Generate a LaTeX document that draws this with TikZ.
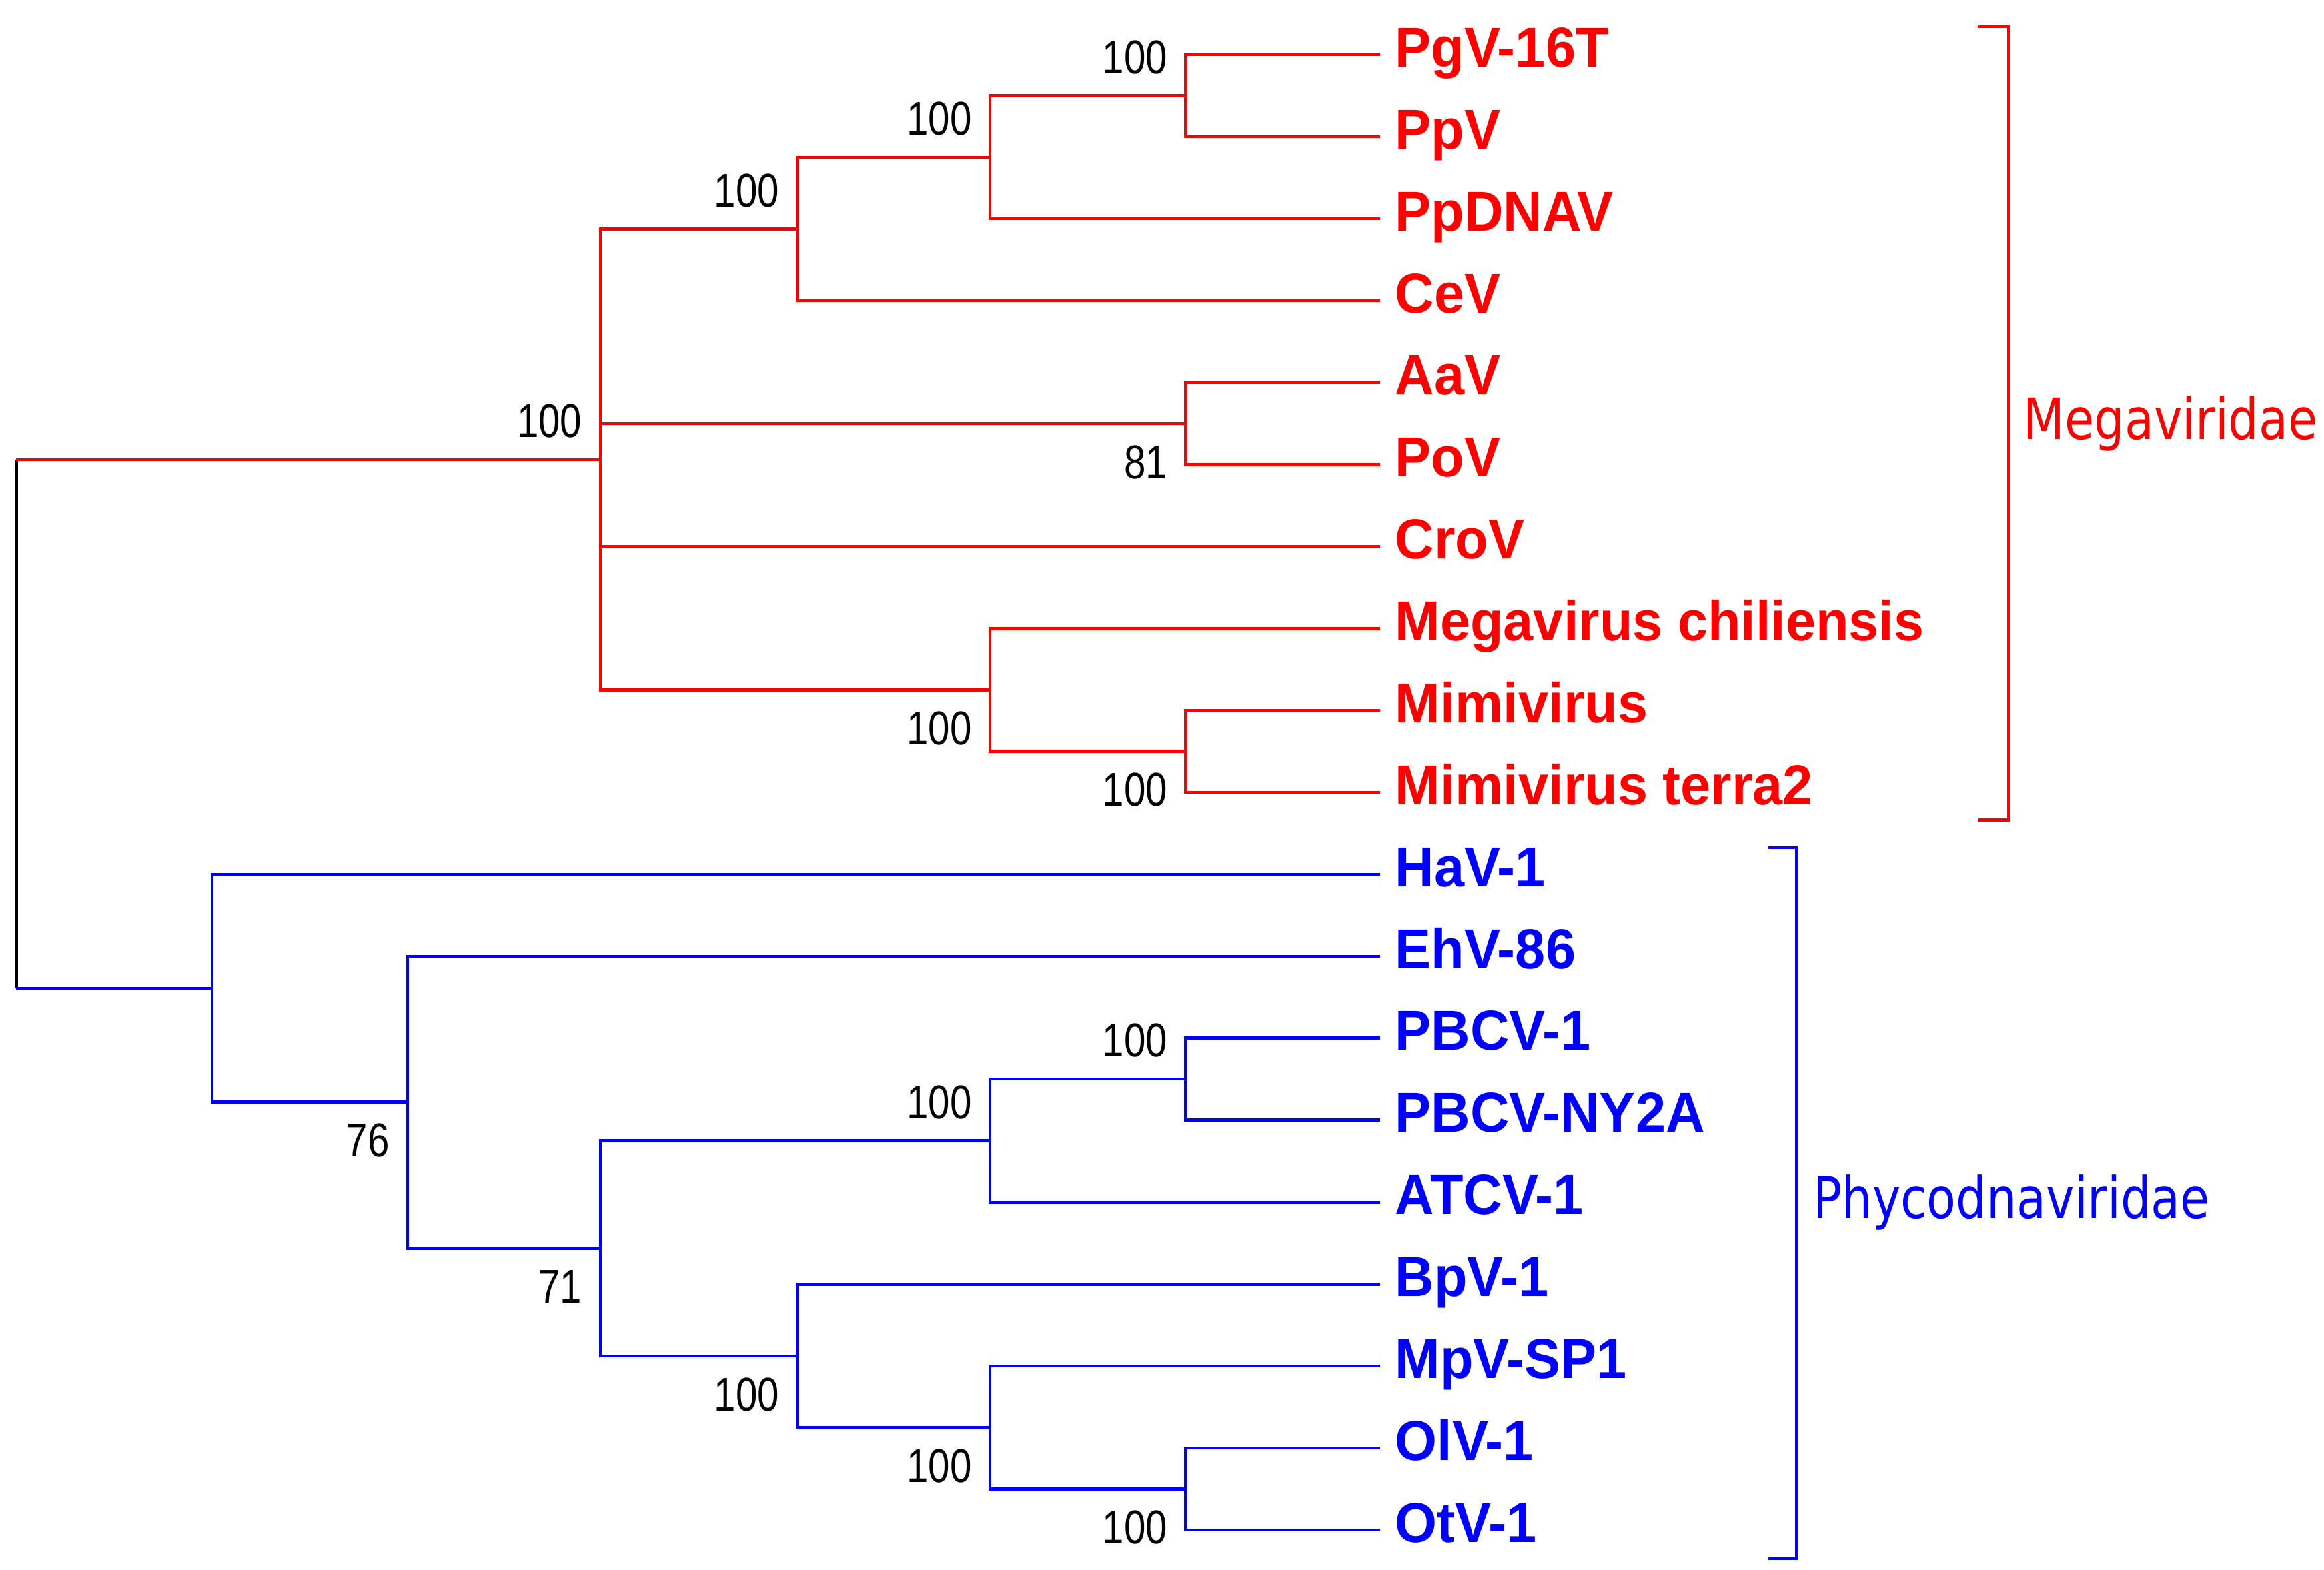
\documentclass[tikz,border=0pt]{standalone}
\usepackage{fontspec}
\setmainfont{Liberation Sans}
\newfontfamily\leaffont[FakeStretch=0.96]{Liberation Sans}
\newfontfamily\bootfont[FakeStretch=0.82]{Liberation Sans}
\newfontfamily\cladefont[FakeStretch=0.84]{DejaVu Sans}
\begin{document}
\begin{tikzpicture}[x=0.5pt,y=-27.65pt,
    branch/.style={line width=1pt},
    leaf/.style={anchor=west,inner xsep=5pt,inner ysep=0pt,text height=13.7pt,text depth=5.5pt,
      font=\leaffont\bfseries\fontsize{19}{22}\selectfont},
    boot/.style={anchor=east,inner sep=0pt,font=\bootfont\fontsize{16}{18}\selectfont},
    clade/.style={anchor=base west,inner sep=0pt,font=\cladefont\fontsize{19.2}{22}\selectfont}]
  \useasboundingbox (0,-0.669) rectangle (1568,18.481);
  % leaves
  \node[leaf,text=red] (pgv) at (931,0) {PgV-16T};
  \node[leaf,text=red] (ppv) at (931,1) {PpV};
  \node[leaf,text=red] (ppdnav) at (931,2) {PpDNAV};
  \node[leaf,text=red] (cev) at (931,3) {CeV};
  \node[leaf,text=red] (aav) at (931,4) {AaV};
  \node[leaf,text=red] (pov) at (931,5) {PoV};
  \node[leaf,text=red] (crov) at (931,6) {CroV};
  \node[leaf,text=red] (megav) at (931,7) {Megavirus chiliensis};
  \node[leaf,text=red] (mimi) at (931,8) {Mimivirus};
  \node[leaf,text=red] (terra) at (931,9) {Mimivirus terra2};
  \node[leaf,text=blue] (hav) at (931,10) {HaV-1};
  \node[leaf,text=blue] (ehv) at (931,11) {EhV-86};
  \node[leaf,text=blue] (pbcv) at (931,12) {PBCV-1};
  \node[leaf,text=blue] (ny2a) at (931,13) {PBCV-NY2A};
  \node[leaf,text=blue] (atcv) at (931,14) {ATCV-1};
  \node[leaf,text=blue] (bpv) at (931,15) {BpV-1};
  \node[leaf,text=blue] (mpv) at (931,16) {MpV-SP1};
  \node[leaf,text=blue] (olv) at (931,17) {OlV-1};
  \node[leaf,text=blue] (otv) at (931,18) {OtV-1};
  % inner nodes
  \coordinate (a1) at (800,0.5);
  \coordinate (a2) at (668,1.25);
  \coordinate (a3) at (538,2.125);
  \coordinate (a4) at (800,4.5);
  \coordinate (a5) at (800,8.5);
  \coordinate (a6) at (668,7.75);
  \coordinate (a7) at (405,4.9375);
  \coordinate (b1) at (800,12.5);
  \coordinate (b2) at (668,13.25);
  \coordinate (b3) at (800,17.5);
  \coordinate (b4) at (668,16.75);
  \coordinate (b5) at (538,15.875);
  \coordinate (b6) at (405,14.5625);
  \coordinate (b7) at (275,12.78125);
  \coordinate (b8) at (143,11.390625);
  \coordinate (rtop) at (11,4.9375);
  \coordinate (rbot) at (11,11.390625);
  % branches
  \draw[branch] (rtop) -- (rbot);
  \draw[branch,red] (rtop) -- (a7);
  \draw[branch,red] (a7) |- (a3);
  \draw[branch,red] (a7) |- (a4);
  \draw[branch,red] (a7) |- (crov);
  \draw[branch,red] (a7) |- (a6);
  \draw[branch,red] (a3) |- (a2);
  \draw[branch,red] (a3) |- (cev);
  \draw[branch,red] (a2) |- (a1);
  \draw[branch,red] (a2) |- (ppdnav);
  \draw[branch,red] (a1) |- (pgv);
  \draw[branch,red] (a1) |- (ppv);
  \draw[branch,red] (a4) |- (aav);
  \draw[branch,red] (a4) |- (pov);
  \draw[branch,red] (a6) |- (megav);
  \draw[branch,red] (a6) |- (a5);
  \draw[branch,red] (a5) |- (mimi);
  \draw[branch,red] (a5) |- (terra);
  \draw[branch,blue] (rbot) -- (b8);
  \draw[branch,blue] (b8) |- (hav);
  \draw[branch,blue] (b8) |- (b7);
  \draw[branch,blue] (b7) |- (ehv);
  \draw[branch,blue] (b7) |- (b6);
  \draw[branch,blue] (b6) |- (b2);
  \draw[branch,blue] (b6) |- (b5);
  \draw[branch,blue] (b2) |- (b1);
  \draw[branch,blue] (b2) |- (atcv);
  \draw[branch,blue] (b1) |- (pbcv);
  \draw[branch,blue] (b1) |- (ny2a);
  \draw[branch,blue] (b5) |- (bpv);
  \draw[branch,blue] (b5) |- (b4);
  \draw[branch,blue] (b4) |- (mpv);
  \draw[branch,blue] (b4) |- (b3);
  \draw[branch,blue] (b3) |- (olv);
  \draw[branch,blue] (b3) |- (otv);
  % bootstrap values
  \node[boot] (s1) at ([xshift=-6pt,yshift=13pt]a1) {100};
  \node[boot] (s2) at ([xshift=-6pt,yshift=13pt]a2) {100};
  \node[boot] (s3) at ([xshift=-6pt,yshift=13pt]a3) {100};
  \node[boot] (s4) at ([xshift=-6pt,yshift=-13pt]a4) {81};
  \node[boot] (s5) at ([xshift=-6pt,yshift=-13pt]a5) {100};
  \node[boot] (s6) at ([xshift=-6pt,yshift=-13pt]a6) {100};
  \node[boot] (s7) at ([xshift=-6pt,yshift=13pt]a7) {100};
  \node[boot] (t1) at ([xshift=-6pt,yshift=13pt]b1) {100};
  \node[boot] (t2) at ([xshift=-6pt,yshift=13pt]b2) {100};
  \node[boot] (t3) at ([xshift=-6pt,yshift=-13pt]b3) {100};
  \node[boot] (t4) at ([xshift=-6pt,yshift=-13pt]b4) {100};
  \node[boot] (t5) at ([xshift=-6pt,yshift=-13pt]b5) {100};
  \node[boot] (t6) at ([xshift=-6pt,yshift=-13pt]b6) {71};
  \node[boot] (t7) at ([xshift=-6pt,yshift=-13pt]b7) {76};
  % clades
  \draw[branch,red] (1335,-0.344) -| (1355,9.338) -- (1335,9.338);
  \node[clade,text=red] (mega) at (1365,4.691) {Megaviridae};
  \draw[branch,blue] (1193,9.675) -| (1212,18.349) -- (1193,18.349);
  \node[clade,text=blue] (phyco) at (1223,14.195) {Phycodnaviridae};
\end{tikzpicture}
\end{document}
